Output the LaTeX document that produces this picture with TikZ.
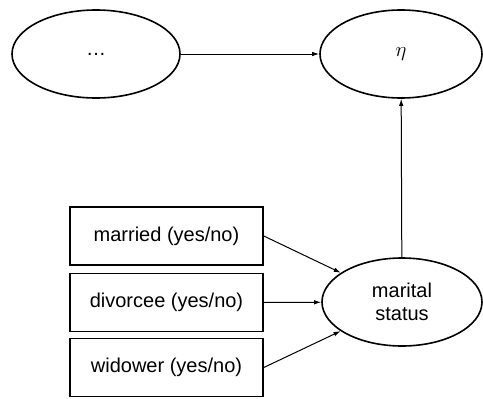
\documentclass[tikz,border=0pt]{standalone}
\usepackage{fontspec}
\setmainfont{Liberation Sans}
\usetikzlibrary{shapes.geometric, arrows.meta}

\begin{document}
\begin{tikzpicture}[x=1pt,y=-1pt,>={Latex[length=7pt,width=4.5pt]},
    latent/.style={ellipse, draw, line width=1.6pt, inner sep=0pt, minimum height=88pt, align=center, font=\fontsize{20}{22.5}\selectfont},
    dummy/.style={rectangle, draw, line width=1.6pt, minimum width=193pt, minimum height=58pt, font=\fontsize{20}{22.5}\selectfont},
    path/.style={->, line width=1pt}]
        % fix the page size
        \useasboundingbox (0,0) rectangle (483,399);

        % draw the latent variables
        \node[latent, minimum width=168pt] (other) at (96,54) {\ldots};
        \node[latent, minimum width=162pt] (eta) at (401,54) {$\eta$};
        \node[latent, minimum width=160pt] (marital) at (402,302) {marital\\status};

        % draw the dummy indicators
        \node[dummy] (married) at (166.5,236) {married (yes/no)};
        \node[dummy] (divorcee) at (166.5,302.5) {divorcee (yes/no)};
        \node[dummy] (widower) at (166.5,367.5) {widower (yes/no)};

        % paths between the variables
        \draw[path] (other) -- (eta);
        \draw[path] (marital) -- (eta);

        % the dummies form marital status
        \draw[path] (married.east) -- (marital);
        \draw[path] (divorcee.east) -- (marital);
        \draw[path] (widower.east) -- (marital);
\end{tikzpicture}
\end{document}
